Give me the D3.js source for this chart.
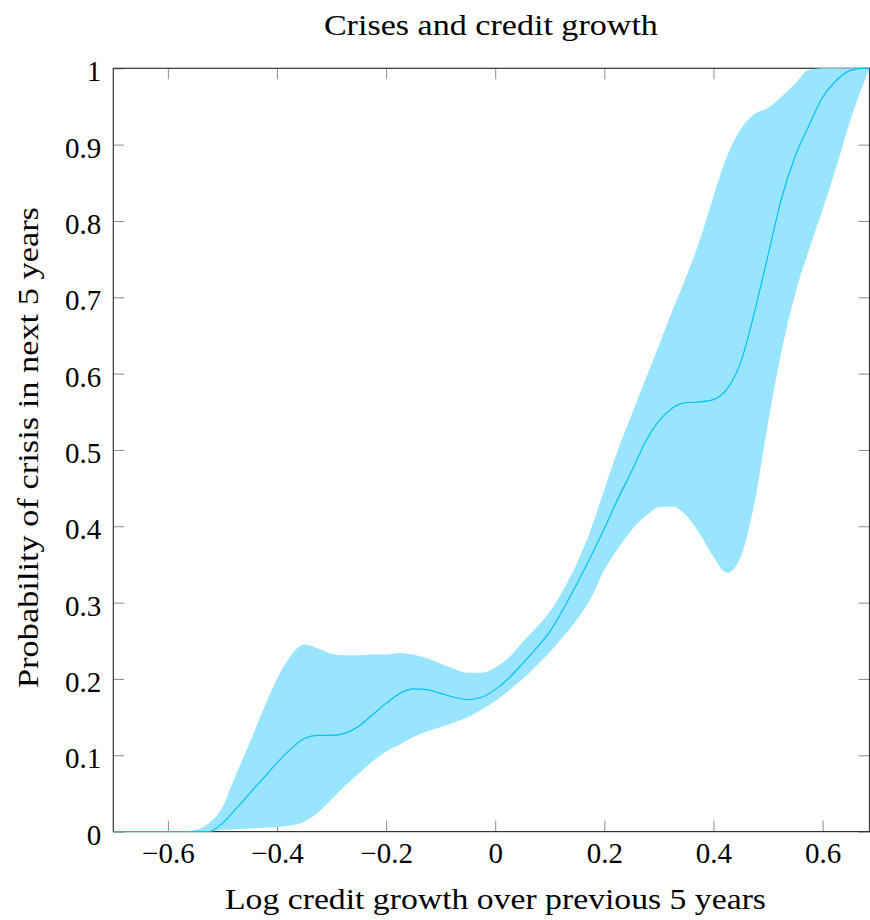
<!DOCTYPE html>
<html lang="en">
<head>
    <meta charset="UTF-8">
    <title>Crises and credit growth</title>
    <script src="https://d3js.org/d3.v7.min.js"></script>
    <style>
        body { margin: 0; background: #fff; }
        text { font-family: "Liberation Serif", "DejaVu Serif", serif; fill: #000; }
    </style>
</head>
<body>
    <svg id="chart" width="870" height="920"></svg>

    <script>
        // Log credit growth grid
        const growth = [-0.700, -0.675, -0.650, -0.625, -0.600, -0.575, -0.550, -0.525, -0.500, -0.475,
            -0.450, -0.425, -0.400, -0.375, -0.350, -0.325, -0.300, -0.275, -0.250, -0.225,
            -0.200, -0.175, -0.150, -0.125, -0.100, -0.075, -0.050, -0.025, 0.000, 0.025,
            0.050, 0.075, 0.100, 0.125, 0.150, 0.175, 0.200, 0.225, 0.250, 0.275,
            0.300, 0.325, 0.350, 0.375, 0.400, 0.425, 0.450, 0.475, 0.500, 0.525,
            0.550, 0.575, 0.600, 0.625, 0.650, 0.675, 0.686];

        // Estimated probability
        const prob = [0, 0, 0, 0, 0, 0, 0, 0, 0.011, 0.030,
            0.050, 0.070, 0.090, 0.108, 0.122, 0.126, 0.126, 0.129, 0.138, 0.153,
            0.168, 0.181, 0.187, 0.186, 0.181, 0.176, 0.173, 0.176, 0.186, 0.201,
            0.220, 0.240, 0.262, 0.292, 0.325, 0.360, 0.397, 0.436, 0.472, 0.510,
            0.538, 0.555, 0.562, 0.563, 0.566, 0.580, 0.615, 0.680, 0.755, 0.830,
            0.885, 0.925, 0.962, 0.984, 0.997, 1.0, 1.0];

        // Confidence band
        const upper = [0, 0, 0, 0, 0, 0, 0.002, 0.011, 0.032, 0.075,
            0.116, 0.160, 0.200, 0.230, 0.245, 0.240, 0.233, 0.231, 0.231, 0.232,
            0.232, 0.234, 0.232, 0.227, 0.220, 0.213, 0.208, 0.208, 0.215, 0.228,
            0.248, 0.267, 0.288, 0.317, 0.352, 0.395, 0.448, 0.500, 0.546, 0.592,
            0.637, 0.683, 0.727, 0.775, 0.832, 0.885, 0.920, 0.940, 0.948, 0.963,
            0.980, 0.998, 1.0, 1.0, 1.0, 1.0, 1.0];

        const lower = [0, 0, 0, 0, 0, 0, 0, 0, 0.002, 0.003,
            0.004, 0.005, 0.006, 0.008, 0.013, 0.025, 0.042, 0.060, 0.076, 0.092,
            0.105, 0.114, 0.124, 0.131, 0.137, 0.143, 0.150, 0.160, 0.171, 0.185,
            0.200, 0.217, 0.235, 0.256, 0.278, 0.305, 0.343, 0.371, 0.395, 0.413,
            0.425, 0.426, 0.414, 0.390, 0.360, 0.339, 0.360, 0.430, 0.535, 0.630,
            0.705, 0.762, 0.815, 0.870, 0.930, 0.980, 1.0];

        const xTicks = [-0.6, -0.4, -0.2, 0, 0.2, 0.4, 0.6];
        const yTicks = [0, 0.1, 0.2, 0.3, 0.4, 0.5, 0.6, 0.7, 0.8, 0.9, 1];

        const svg = d3.select("#chart");
        const plotL = 113.3, plotR = 869.5, plotT = 68.3, plotB = 831.6;
        const fontSize = 29;

        const x = d3.scaleLinear().domain([-0.7, 0.686]).range([plotL, plotR]);
        const y = d3.scaleLinear().domain([0, 1]).range([plotB, plotT]);

        const fmt = d => d === 0 ? "0" : (d < 0 ? "\u2212" : "") + String(Math.abs(d));

        // ticks (inward, all four sides)
        const tickLen = 11;
        const yAxisG = svg.append("g").attr("transform", `translate(${plotL},0)`)
            .call(d3.axisLeft(y).tickValues(yTicks).tickSize(-tickLen).tickPadding(12).tickFormat(fmt))
            .call(g => g.select(".domain").remove());
        svg.append("g").attr("transform", `translate(0,${plotB})`)
            .call(d3.axisBottom(x).tickValues(xTicks).tickSize(-tickLen).tickPadding(11).tickFormat(fmt))
            .call(g => g.select(".domain").remove());
        svg.append("g").attr("transform", `translate(0,${plotT})`)
            .call(d3.axisTop(x).tickValues(xTicks).tickSize(-tickLen).tickFormat(""))
            .call(g => g.select(".domain").remove());
        svg.append("g").attr("transform", `translate(${plotR},0)`)
            .call(d3.axisRight(y).tickValues(yTicks).tickSize(-tickLen).tickFormat(""))
            .call(g => g.select(".domain").remove());

        svg.selectAll(".tick line").attr("stroke", "#8c8c8c").attr("stroke-width", 1);
        svg.selectAll(".tick text")
            .style("font-family", '"Liberation Serif", "DejaVu Serif", serif')
            .style("font-size", fontSize + "px")
            .attr("fill", "#000");
        yAxisG.selectAll(".tick text").attr("dy", "0.43em");

        // frame
        svg.append("rect")
            .attr("x", plotL).attr("y", plotT)
            .attr("width", plotR - plotL).attr("height", plotB - plotT)
            .attr("fill", "none").attr("stroke", "#333").attr("stroke-width", 1.2);

        // data, clipped to plot area
        svg.append("clipPath").attr("id", "clip")
            .append("rect").attr("x", plotL).attr("y", plotT - 1)
            .attr("width", plotR - plotL).attr("height", plotB - plotT + 2);

        const rows = growth.map((g, i) => ({ g, p: prob[i], lo: lower[i], hi: upper[i] }));
        const plot = svg.append("g").attr("clip-path", "url(#clip)");

        plot.append("path")
            .datum(rows)
            .attr("fill", "#99e5ff")
            .attr("d", d3.area().curve(d3.curveMonotoneX)
                .x(d => x(d.g)).y0(d => y(d.lo)).y1(d => y(d.hi)));

        plot.append("path")
            .datum(rows)
            .attr("fill", "none")
            .attr("stroke", "#00bfff")
            .attr("stroke-width", 1.2)
            .attr("d", d3.line().curve(d3.curveMonotoneX)
                .x(d => x(d.g)).y(d => y(d.p)));

        // titles
        svg.append("text")
            .attr("x", (plotL + plotR) / 2 - 0.5).attr("y", 35)
            .attr("text-anchor", "middle")
            .attr("font-size", fontSize)
            .attr("textLength", 334).attr("lengthAdjust", "spacingAndGlyphs")
            .text("Crises and credit growth");

        svg.append("text")
            .attr("x", 495.5).attr("y", 909)
            .attr("text-anchor", "middle")
            .attr("font-size", fontSize)
            .attr("textLength", 541).attr("lengthAdjust", "spacingAndGlyphs")
            .text("Log credit growth over previous 5 years");

        svg.append("text")
            .attr("transform", "translate(38,447.5) rotate(-90)")
            .attr("text-anchor", "middle")
            .attr("font-size", fontSize)
            .attr("textLength", 481).attr("lengthAdjust", "spacingAndGlyphs")
            .text("Probability of crisis in next 5 years");
    </script>
</body>
</html>
